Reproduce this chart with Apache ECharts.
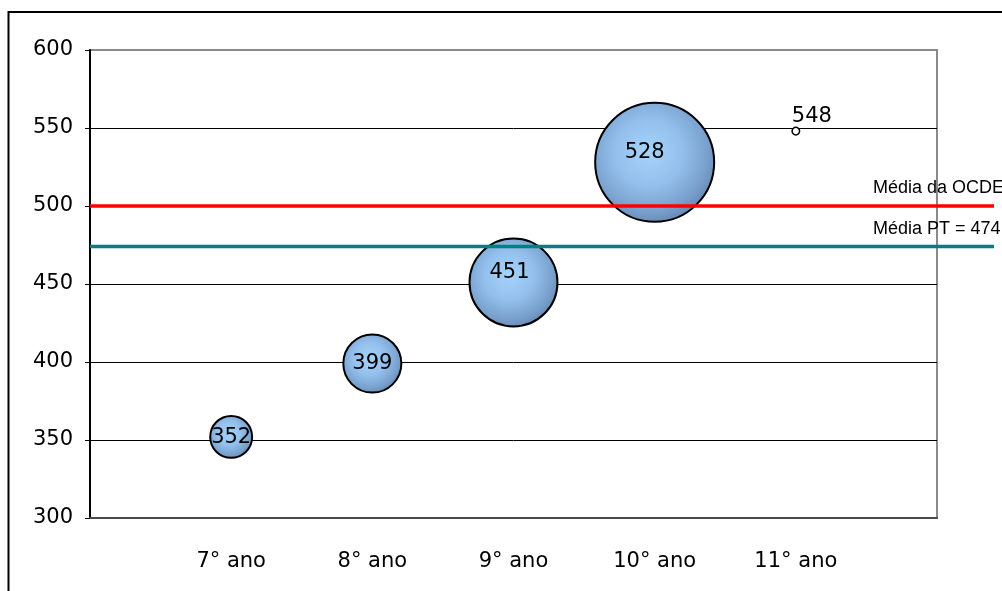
<!DOCTYPE html>
<html>
<head>
<meta charset="utf-8">
<style>
  html, body { margin: 0; padding: 0; background: #fff; }
  #chart { width: 1002px; height: 591px; }
</style>
<script src="https://cdn.jsdelivr.net/npm/echarts@6/dist/echarts.min.js"></script>
</head>
<body>
<div id="chart"></div>
<script>
// School grade of the students (x positions 1..5 on the horizontal axis)
const grades = ['7° ano', '8° ano', '9° ano', '10° ano', '11° ano'];
// Mean score per grade
const scores = [352, 399, 451, 528, 548];
// Bubble size: share of students in each grade (%)
const shares = [6.2, 11.9, 27.3, 50, 0.2];
// Reference averages
const oecdMean = 500;
const ptMean = 474;
const refLabels = ['Média da OCDE', 'Média PT = ' + ptMean];
// Y axis range and step
const yMin = 300, yMax = 600, yStep = 50;

// Label nudges for the bubble values (style only)
const labelNudges = [[0, 1], [0, 0], [-4, -10], [-10, -10], [16, -15]];
const maxDiameter = 119;
const maxShare = Math.max(...shares);

const bubbleFill = {
  type: 'radial', x: 0.45, y: 0.42, r: 0.62,
  colorStops: [
    { offset: 0, color: '#a6d3fc' },
    { offset: 0.45, color: '#93bfec' },
    { offset: 0.8, color: '#789fcb' },
    { offset: 1, color: '#5f82ab' }
  ]
};

const bubbleData = scores.map((s, i) => {
  const item = {
    value: [i + 1, s, shares[i]],
    label: { offset: labelNudges[i] }
  };
  if (shares[i] < 1) {
    item.itemStyle = { color: '#fff', borderColor: '#000', borderWidth: 1.5 };
  }
  return item;
});

function refLine(value, color, text) {
  return {
    type: 'line',
    xAxisIndex: 1, yAxisIndex: 1,
    z: 5,
    symbol: 'circle', symbolSize: 0,
    lineStyle: { color: color, width: 3.5 },
    itemStyle: { color: color },
    silent: true,
    animation: false,
    data: [
      [0, value],
      {
        value: [1, value],
        label: {
          show: true, position: 'left', align: 'left', verticalAlign: 'middle',
          offset: [-116, -18],
          formatter: text,
          fontFamily: 'Liberation Sans', fontSize: 18, color: '#000'
        }
      }
    ]
  };
}

const chart = echarts.init(document.getElementById('chart'), null, { renderer: 'canvas' });
chart.setOption({
  backgroundColor: '#fff',
  animation: false,
  textStyle: { fontFamily: 'DejaVu Sans' },
  graphic: [{
    type: 'rect', z: 0, silent: true,
    shape: { x: 8.5, y: 12, width: 1200, height: 1000 },
    style: { fill: 'none', stroke: '#000', lineWidth: 2 }
  }],
  grid: [
    { left: 90, right: 65, top: 50, bottom: 73, show: true, borderColor: '#8a8a8a', borderWidth: 2, backgroundColor: 'transparent' },
    { left: 90, right: 8, top: 50, bottom: 73, show: false }
  ],
  xAxis: [
    {
      type: 'value', gridIndex: 0, min: 0, max: grades.length + 1, interval: 1,
      axisLine: { show: true, lineStyle: { color: '#4a4a4a', width: 2 } },
      axisTick: { show: false },
      splitLine: { show: false },
      axisLabel: {
        margin: 33, fontSize: 21, color: '#000', fontFamily: 'DejaVu Sans',
        formatter: v => (v >= 1 && v <= grades.length) ? grades[v - 1] : ''
      }
    },
    {
      type: 'value', gridIndex: 1, min: 0, max: 1, show: false
    }
  ],
  yAxis: [
    {
      type: 'value', gridIndex: 0, min: yMin, max: yMax, interval: yStep,
      axisLine: { show: true, lineStyle: { color: '#000', width: 2 } },
      axisTick: { show: true, length: 5, lineStyle: { color: '#000', width: 1 } },
      splitLine: { show: true, showMinLine: false, showMaxLine: false, lineStyle: { color: '#000', width: 1 } },
      axisLabel: { margin: 17, fontSize: 21, color: '#000', fontFamily: 'DejaVu Sans' }
    },
    {
      type: 'value', gridIndex: 1, min: yMin, max: yMax, show: false
    }
  ],
  series: [
    {
      type: 'scatter',
      xAxisIndex: 0, yAxisIndex: 0,
      z: 3,
      data: bubbleData,
      symbolSize: d => Math.max(4, maxDiameter * Math.sqrt(d[2] / maxShare)),
      itemStyle: { color: bubbleFill, borderColor: '#000', borderWidth: 2, opacity: 1 },
      label: {
        show: true, position: 'inside',
        formatter: p => p.value[1],
        fontSize: 21, color: '#000', fontFamily: 'DejaVu Sans'
      }
    },
    refLine(oecdMean, '#ff0000', refLabels[0]),
    refLine(ptMean, '#008080', refLabels[1])
  ]
});
</script>
</body>
</html>
